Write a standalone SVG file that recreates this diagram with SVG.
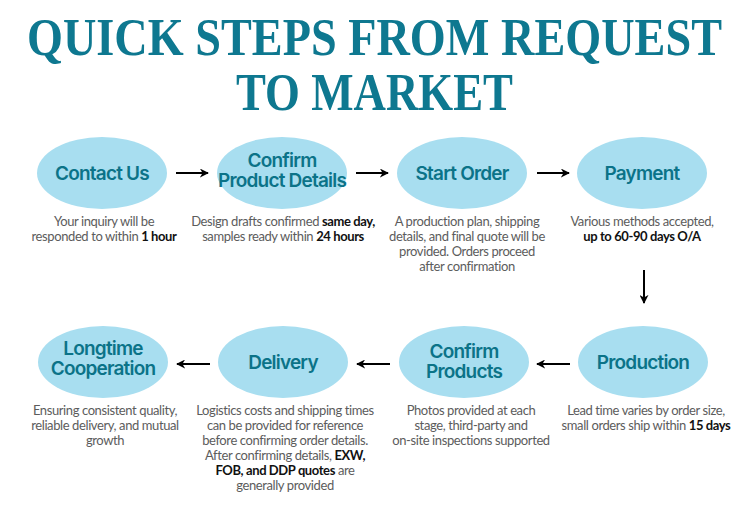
<svg xmlns="http://www.w3.org/2000/svg" width="750" height="525" viewBox="0 0 750 525">
<style>
.title{font-family:"Liberation Serif","Times New Roman",serif;font-weight:bold;font-size:53px;fill:#0e7890}
.node ellipse{fill:#a8def0}
.lbl{font-family:Inter,"Noto Sans",sans-serif;font-weight:600;font-size:19px;fill:#0b7388;text-anchor:middle;letter-spacing:-0.8px}
.desc{font-family:Lato,"Noto Sans",sans-serif;font-size:13px;fill:#5c5c5c;text-anchor:middle;letter-spacing:-0.4px}
.b{font-weight:bold;fill:#111}
.conn line{stroke:#000;stroke-width:2}
</style>
<defs>
<marker id="ah" viewBox="0 0 10 10" refX="9" refY="5" markerWidth="4.5" markerHeight="4.5" orient="auto" markerUnits="strokeWidth">
<path d="M0,0 L10,5 L0,10 L3,5 Z" fill="#000"/>
</marker>
</defs>
<rect width="750" height="525" fill="#fff"/>
<text class="title" x="27" y="55" textLength="695" lengthAdjust="spacingAndGlyphs">QUICK STEPS FROM REQUEST</text>
<text class="title" x="236" y="110" textLength="277" lengthAdjust="spacingAndGlyphs">TO MARKET</text>

<g class="conn">
<line x1="176" y1="173" x2="208" y2="173" marker-end="url(#ah)"/>
<line x1="356" y1="173" x2="388" y2="173" marker-end="url(#ah)"/>
<line x1="537" y1="173" x2="569" y2="173" marker-end="url(#ah)"/>
<line x1="644" y1="270" x2="644" y2="303" marker-end="url(#ah)"/>
<line x1="570" y1="364" x2="537" y2="364" marker-end="url(#ah)"/>
<line x1="390" y1="364" x2="357" y2="364" marker-end="url(#ah)"/>
<line x1="210" y1="364" x2="177" y2="364" marker-end="url(#ah)"/>
</g>

<g id="contact-us" class="node">
<ellipse cx="102" cy="173" rx="65" ry="36"/>
<text class="lbl" x="102" y="180">Contact Us</text>
<text class="desc" x="104" y="226">Your inquiry will be</text>
<text class="desc" x="104" y="241">responded to within <tspan class="b">1 hour</tspan></text>
</g>
<g id="confirm-product-details" class="node">
<ellipse cx="282" cy="173" rx="65" ry="36"/>
<text class="lbl" x="282" y="167">Confirm</text>
<text class="lbl" x="282" y="187">Product Details</text>
<text class="desc" x="283" y="226">Design drafts confirmed <tspan class="b">same day,</tspan></text>
<text class="desc" x="283" y="241">samples ready within <tspan class="b">24 hours</tspan></text>
</g>
<g id="start-order" class="node">
<ellipse cx="462" cy="173" rx="65" ry="36"/>
<text class="lbl" x="462" y="180">Start Order</text>
<text class="desc" x="467" y="226">A production plan, shipping</text>
<text class="desc" x="467" y="241">details, and final quote will be</text>
<text class="desc" x="467" y="256">provided. Orders proceed</text>
<text class="desc" x="467" y="271">after confirmation</text>
</g>
<g id="payment" class="node">
<ellipse cx="642" cy="173" rx="65" ry="36"/>
<text class="lbl" x="642" y="180">Payment</text>
<text class="desc" x="642" y="226">Various methods accepted,</text>
<text class="desc" x="642" y="241"><tspan class="b">up to 60-90 days O/A</tspan></text>
</g>
<g id="production" class="node">
<ellipse cx="643" cy="362" rx="65" ry="36"/>
<text class="lbl" x="643" y="369">Production</text>
<text class="desc" x="646" y="415">Lead time varies by order size,</text>
<text class="desc" x="646" y="430">small orders ship within <tspan class="b">15 days</tspan></text>
</g>
<g id="confirm-products" class="node">
<ellipse cx="464" cy="362" rx="65" ry="36"/>
<text class="lbl" x="464" y="358">Confirm</text>
<text class="lbl" x="464" y="378">Products</text>
<text class="desc" x="471" y="415">Photos provided at each</text>
<text class="desc" x="471" y="430">stage, third-party and</text>
<text class="desc" x="471" y="445">on-site inspections supported</text>
</g>
<g id="delivery" class="node">
<ellipse cx="283" cy="362" rx="65" ry="36"/>
<text class="lbl" x="283" y="369">Delivery</text>
<text class="desc" x="285" y="415">Logistics costs and shipping times</text>
<text class="desc" x="285" y="430">can be provided for reference</text>
<text class="desc" x="285" y="445">before confirming order details.</text>
<text class="desc" x="285" y="460">After confirming details, <tspan class="b">EXW,</tspan></text>
<text class="desc" x="285" y="475"><tspan class="b">FOB, and DDP quotes</tspan> are</text>
<text class="desc" x="285" y="490">generally provided</text>
</g>
<g id="longtime-cooperation" class="node">
<ellipse cx="103" cy="362" rx="65" ry="36"/>
<text class="lbl" x="103" y="355">Longtime</text>
<text class="lbl" x="103" y="375">Cooperation</text>
<text class="desc" x="105" y="415">Ensuring consistent quality,</text>
<text class="desc" x="105" y="430">reliable delivery, and mutual</text>
<text class="desc" x="105" y="445">growth</text>
</g>
</svg>
